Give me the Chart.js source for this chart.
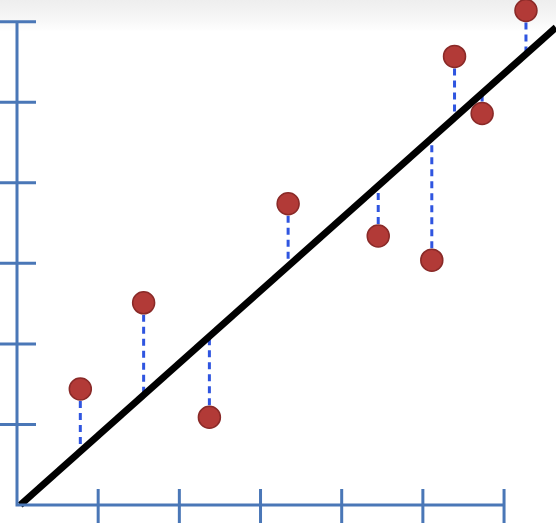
<!DOCTYPE html>
<html>
<head>
<meta charset="utf-8">
<script src="https://cdn.jsdelivr.net/npm/chart.js@4.4.0/dist/chart.umd.min.js"></script>
<style>
    html, body {
        margin: 0;
        height: 100%;
        overflow: hidden;
    }
    body {
        background: #ffffff linear-gradient(#eeeeee 0px, #f6f6f6 18px, #ffffff 32px) no-repeat;
    }
    canvas {
        display: block;
    }
</style>
</head>
<body>
<canvas id="grafico" width="556" height="529"></canvas>
<script>
// observed points (grid units)
const pontosX = [0.78, 1.56, 2.37, 3.34, 4.45, 5.11, 5.39, 5.73, 6.27]
const pontosY = [1.44, 2.51, 1.09, 3.74, 3.34, 3.04, 5.57, 4.86, 6.14]
// value on the fitted line under each point
const ajustadoY = [0.66, 1.37, 2.09, 2.96, 3.96, 4.56, 4.81, 5.11, 5.60]
// regression line ends
const retaX = [0.04, 6.64]
const retaY = [0, 5.93]
// axis tick positions
const ticksX = [1, 2, 3, 4, 5, 6]
const ticksY = [1, 2, 3, 4, 5, 6]

const corEixo = '#4a77b7'

const eixos = {
    id: 'eixos',
    afterDraw(chart) {
        const c = chart.ctx
        const sx = chart.scales.x
        const sy = chart.scales.y
        const x0 = sx.getPixelForValue(0)
        const y0 = sy.getPixelForValue(0)
        c.save()
        c.strokeStyle = corEixo
        c.lineWidth = 3
        c.beginPath()
        c.moveTo(x0, sy.getPixelForValue(ticksY[ticksY.length - 1]))
        c.lineTo(x0, y0)
        c.lineTo(sx.getPixelForValue(ticksX[ticksX.length - 1]), y0)
        for (let i = 0; i < ticksY.length; i++) {
            let py = sy.getPixelForValue(ticksY[i])
            c.moveTo(x0 - 17, py)
            c.lineTo(x0 + 19, py)
        }
        for (let i = 0; i < ticksX.length; i++) {
            let px = sx.getPixelForValue(ticksX[i])
            c.moveTo(px, y0 - 16)
            c.lineTo(px, y0 + 18)
        }
        c.stroke()
        c.restore()
    }
}

let dadosPontos = []
for (let i = 0; i < pontosX.length; i++) {
    dadosPontos.push({ x: pontosX[i], y: pontosY[i] })
}

let datasets = [{
    type: 'scatter',
    data: dadosPontos,
    pointRadius: 11,
    pointBackgroundColor: '#b23a37',
    pointBorderColor: '#8a2a28',
    pointBorderWidth: 1.5,
    clip: false,
    order: 0
}, {
    type: 'line',
    data: [{ x: retaX[0], y: retaY[0] }, { x: retaX[1], y: retaY[1] }],
    borderColor: '#000000',
    borderWidth: 7,
    pointRadius: 0,
    clip: false,
    order: 1
}]

for (let i = 0; i < pontosX.length; i++) {
    datasets.push({
        type: 'line',
        data: [{ x: pontosX[i], y: pontosY[i] }, { x: pontosX[i], y: ajustadoY[i] }],
        borderColor: '#2f55e0',
        borderWidth: 3,
        borderDash: [7, 5],
        pointRadius: 0,
        clip: false,
        order: 2
    })
}

const ctx = document.getElementById('grafico').getContext('2d')

const grafico = new Chart(ctx, {
    data: { datasets: datasets },
    options: {
        responsive: false,
        animation: false,
        layout: { autoPadding: false, padding: { left: 17, right: 0, top: 0, bottom: 24 } },
        plugins: { legend: { display: false }, tooltip: { enabled: false } },
        scales: {
            x: { type: 'linear', display: false, min: 0, max: 6.64 },
            y: { type: 'linear', display: false, min: 0, max: 6.27 }
        }
    },
    plugins: [eixos]
})
</script>
</body>
</html>
